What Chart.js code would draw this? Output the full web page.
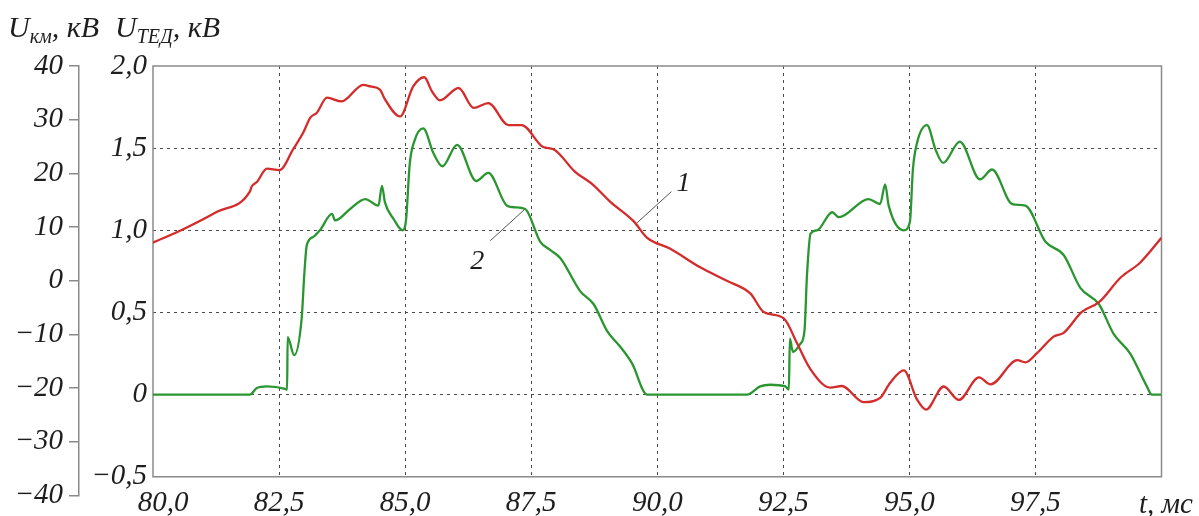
<!DOCTYPE html>
<html>
<head>
<meta charset="utf-8">
<script src="https://cdn.jsdelivr.net/npm/chart.js@4/dist/chart.umd.min.js"></script>
<style>
html,body{margin:0;padding:0;background:#fff;}
canvas{display:block;}
</style>
</head>
<body>
<canvas id="c" width="1199" height="516"></canvas>
<script>
// ---- data ----
const xTickValues = [80, 82.5, 85, 87.5, 90, 92.5, 95, 97.5, 100];
const xTickLabels = ['\u2002\u200980,0', '82,5', '85,0', '87,5', '90,0', '92,5', '95,0', '97,5', ''];
const ukmTickValues = [-40, -30, -20, -10, 0, 10, 20, 30, 40];
const ukmTickLabels = ['\u221240', '\u221230', '\u221220', '\u221210', '0', '10', '20', '30', '40'];
const utedTickValues = [-0.5, 0, 0.5, 1.0, 1.5, 2.0];
const utedTickLabels = ['\u22120,5', '0', '0,5', '1,0', '1,5', '2,0'];

// curve 1 (red): U_км, kV
const t1 = [80.00, 80.60, 81.26, 81.92, 81.96, 82.06, 82.26, 82.51, 82.78, 82.98, 83.12, 83.25, 83.45, 83.74, 84.17, 84.31, 84.50, 84.60, 84.90,
  85.16, 85.38, 85.53, 85.69, 86.06, 86.36, 86.65, 87.05, 87.31, 87.74, 87.94, 88.37, 88.70, 89.07, 89.53, 89.80, 90.25, 90.85,
  91.38, 91.85, 92.11, 92.51, 92.77, 93.04, 93.43, 93.66, 94.09, 94.42, 94.62, 94.89, 95.15, 95.33, 95.68, 95.98, 96.38, 96.61,
  97.14, 97.30, 97.53, 97.86, 98.06, 98.42, 98.76, 99.19, 99.58, 100.00];
const u1 = [7.1, 9.6, 12.8, 16.6, 17.6, 18.4, 20.9, 20.6, 24.5, 27.6, 30.4, 31.3, 34.1, 33.4, 36.5, 36.2, 35.6, 33.8, 30.6,
  36.2, 37.9, 35.3, 33.6, 35.9, 32.2, 33.1, 29.0, 29.0, 24.9, 24.5, 20.3, 18.1, 14.7, 11.1, 8.0, 6.0, 2.5,
  0.0, -2.4, -5.8, -7.0, -11.6, -16.5, -19.9, -19.6, -22.6, -21.8, -19.0, -16.7, -22.1, -24.0, -19.7, -22.2, -18.0, -19.3,
  -14.8, -15.2, -13.5, -10.4, -9.7, -5.8, -4.0, 0.6, 3.4, 8.0];

// curve 2 (green): U_ТЕД, kV
const t2 = [80.00, 81.92, 82.06, 82.26, 82.62, 82.66, 82.67, 82.80, 82.95, 83.00, 83.05, 83.18, 83.31, 83.55, 83.61, 83.91, 84.21, 84.47, 84.54, 84.60,
  84.77, 84.95, 85.02, 85.09, 85.18, 85.36, 85.56, 85.74, 86.03, 86.41, 86.65, 87.02, 87.18, 87.38, 87.68, 87.88, 88.08, 88.47, 88.74,
  89.00, 89.27, 89.50, 89.80, 91.78, 92.04, 92.24, 92.54, 92.61, 92.63, 92.69, 92.84, 92.92, 92.97, 93.04, 93.17, 93.47, 93.60,
  94.19, 94.42, 94.52, 94.59, 94.89, 95.01, 95.07, 95.15, 95.35, 95.52, 95.67, 96.00, 96.40, 96.64, 97.04, 97.30, 97.70, 98.06,
  98.39, 98.76, 99.05, 99.38, 99.71, 99.81, 100.00];
const u2 = [0.0, 0.0, 0.04, 0.05, 0.035, 0.03, 0.35, 0.24, 0.47, 0.73, 0.91, 0.96, 1.00, 1.10, 1.06, 1.13, 1.19, 1.15, 1.27, 1.17,
  1.07, 1.00, 1.07, 1.40, 1.54, 1.62, 1.47, 1.39, 1.52, 1.30, 1.35, 1.15, 1.14, 1.13, 0.93, 0.88, 0.83, 0.63, 0.55,
  0.39, 0.29, 0.19, 0.0, 0.0, 0.05, 0.06, 0.05, 0.03, 0.34, 0.26, 0.31, 0.39, 0.73, 0.98, 1.00, 1.11, 1.08,
  1.19, 1.16, 1.28, 1.15, 1.00, 1.05, 1.37, 1.53, 1.64, 1.49, 1.41, 1.54, 1.31, 1.37, 1.16, 1.15, 0.93, 0.85,
  0.65, 0.55, 0.37, 0.25, 0.05, 0.0, 0.0];

// leader lines for the curve labels
const leader1T = [90.28, 89.60];
const leader1U = [16.6, 10.8];
const leader2T = [86.69, 87.38];
const leader2U = [0.937, 1.13];
const curveLabels = ['1', '2'];

// ---- chart ----
const FONT = '"Liberation Serif", "Times New Roman", serif';
const TXT = '#1e1e1e';
const AXIS = '#8a8a8a';
const GRID = '#4a4a4a';
const TICKFONT = {family: FONT, size: 29, style: 'italic', lineHeight: 1};
const zip = (a, b) => a.map((v, i) => ({x: v, y: b[i]}));

const decor = {
  id: 'decor',
  beforeDatasetsDraw(chart) {
    const {ctx} = chart;
    const xs = chart.scales.x, ys = chart.scales.y;
    const top = ys.getPixelForValue(utedTickValues[utedTickValues.length - 1]);
    const bot = ys.getPixelForValue(utedTickValues[0]);
    const left = xs.getPixelForValue(xTickValues[0]);
    const right = xs.getPixelForValue(xTickValues[xTickValues.length - 1]);
    ctx.save();
    ctx.strokeStyle = GRID;
    ctx.lineWidth = 1;
    ctx.setLineDash([3, 4]);
    xTickValues.slice(1, -1).forEach(v => {
      const px = Math.round(xs.getPixelForValue(v)) + 0.5;
      ctx.beginPath();
      ctx.moveTo(px, top);
      ctx.lineTo(px, bot);
      ctx.stroke();
    });
    ctx.setLineDash([]);
    ctx.strokeStyle = AXIS;
    ctx.lineWidth = 1.5;
    ctx.strokeRect(left, top, right - left, bot - top);
    ctx.restore();
  },
  afterDraw(chart) {
    const {ctx} = chart;
    const xs = chart.scales.x, ys = chart.scales.y, y2 = chart.scales.y2;
    ctx.save();
    ctx.fillStyle = TXT;
    ctx.textBaseline = 'alphabetic';
    ctx.textAlign = 'left';
    const big = 'italic 30px ' + FONT;
    const sub = 'italic 20px ' + FONT;
    function run(x, parts) {
      parts.forEach(p => {
        ctx.font = p[1];
        ctx.fillText(p[0], x, p[2]);
        x += ctx.measureText(p[0]).width;
      });
    }
    run(8, [['U', big, 37], ['км', sub, 43], [', кВ', big, 37]]);
    run(115, [['U', big, 37], ['ТЕД', sub, 43], [', кВ', big, 37]]);
    // axis unit
    ctx.font = 'italic 29px ' + FONT;
    ctx.fillText('t, мс', 1139, 513);
    // curve numbers
    ctx.textAlign = 'center';
    ctx.textBaseline = 'middle';
    ctx.font = 'italic 28px ' + FONT;
    ctx.fillText(curveLabels[0], xs.getPixelForValue(90.52), y2.getPixelForValue(18.0));
    ctx.fillText(curveLabels[1], xs.getPixelForValue(86.43), ys.getPixelForValue(0.81));
    ctx.restore();
  }
};

new Chart(document.getElementById('c'), {
  type: 'line',
  data: {
    datasets: [
      {label: '1', data: zip(t1, u1), yAxisID: 'y2', borderColor: '#d42b2b', borderWidth: 2.3,
       pointRadius: 0, cubicInterpolationMode: 'monotone', fill: false},
      {label: '2', data: zip(t2, u2), yAxisID: 'y', borderColor: '#2a9630', borderWidth: 2.3,
       pointRadius: 0, cubicInterpolationMode: 'monotone', fill: false},
      {label: 'l1', data: zip(leader1T, leader1U), yAxisID: 'y2', borderColor: '#555', borderWidth: 1,
       pointRadius: 0, fill: false},
      {label: 'l2', data: zip(leader2T, leader2U), yAxisID: 'y', borderColor: '#555', borderWidth: 1,
       pointRadius: 0, fill: false}
    ]
  },
  options: {
    responsive: false,
    animation: false,
    devicePixelRatio: 1,
    layout: {padding: {left: 0, right: 37.5, top: 66, bottom: 15.3}},
    plugins: {legend: {display: false}, tooltip: {enabled: false}, title: {display: false}},
    scales: {
      x: {
        type: 'linear',
        min: 80, max: 100,
        position: {y: -0.5},
        afterBuildTicks: s => { s.ticks = xTickValues.map(v => ({value: v})); },
        ticks: {
          autoSkip: false, maxRotation: 0, padding: 12, color: TXT,
          font: TICKFONT,
          callback: (v) => { const i = xTickValues.indexOf(v); return i >= 0 ? xTickLabels[i] : ''; }
        },
        grid: {display: false, drawTicks: false},
        border: {display: false}
      },
      y: {
        type: 'linear',
        position: 'left',
        weight: 0,
        min: -0.614, max: 2.0,
        afterBuildTicks: s => { s.ticks = utedTickValues.map(v => ({value: v})); },
        afterFit: s => { s.width = 74; },
        ticks: {
          padding: 6, color: TXT,
          font: TICKFONT,
          callback: (v) => { const i = utedTickValues.indexOf(v); return i >= 0 ? utedTickLabels[i] : ''; }
        },
        grid: {
          drawTicks: false, lineWidth: 1,
          color: c => (c.tick && (c.tick.value === -0.5 || c.tick.value === 2)) ? 'rgba(0,0,0,0)' : GRID
        },
        border: {display: false, dash: [3, 4]}
      },
      y2: {
        type: 'linear',
        position: 'left',
        weight: 1,
        min: -40, max: 40,
        afterBuildTicks: s => { s.ticks = ukmTickValues.map(v => ({value: v})); },
        afterFit: s => { s.width = 79; },
        ticks: {
          padding: 6, color: TXT,
          font: TICKFONT,
          callback: (v) => { const i = ukmTickValues.indexOf(v); return i >= 0 ? ukmTickLabels[i] : ''; }
        },
        grid: {drawOnChartArea: false, drawTicks: true, tickLength: 10, color: AXIS, lineWidth: 1.5},
        border: {display: true, color: AXIS, width: 1.5}
      }
    }
  },
  plugins: [decor]
});
</script>
</body>
</html>
